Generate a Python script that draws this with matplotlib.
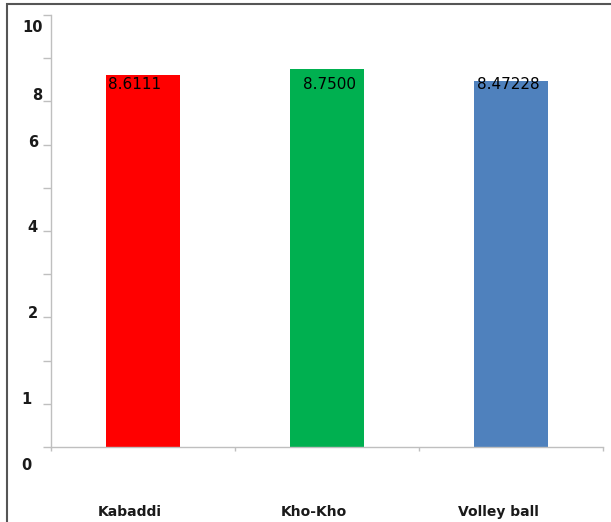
import matplotlib
matplotlib.use("Agg")
import matplotlib.pyplot as plt
from matplotlib.patches import Rectangle
from matplotlib.transforms import ScaledTranslation

categories = ["Kabaddi", "Kho-Kho", "Volley ball"]
values = [8.6111, 8.7500, 8.47228]
value_labels = ["8.6111", "8.7500", "8.47228"]
colors = ["#FF0000", "#00B050", "#4F81BD"]
ytick_texts = ["10", "8", "6", "4", "2", "1", "0"]

fig = plt.figure(figsize=(6.11, 5.22), dpi=100)
W, H = 611, 522
ax = fig.add_axes([51 / W, (H - 447) / H, 552 / W, 432 / H])

x = list(range(len(categories)))
bars = ax.bar(x, values, width=0.40, color=colors, edgecolor="none", zorder=2)

ax.set_xlim(-0.5, 2.5)
ax.set_ylim(0, 10)

for s in ["top", "right"]:
    ax.spines[s].set_visible(False)
for s in ["left", "bottom"]:
    ax.spines[s].set_color("#BFBFBF")
    ax.spines[s].set_linewidth(1.0)

ax.set_yticks(range(0, 11))
ax.set_yticklabels([])
ax.tick_params(axis="y", direction="out", length=6, color="#BFBFBF", width=1)
ax.set_xticks([-0.5, 0.5, 1.5, 2.5])
ax.set_xticklabels([])
ax.tick_params(axis="x", direction="out", length=3, color="#BFBFBF", width=1)

# misplaced y labels as in the reference
ylab_pos = [9.70, 8.13, 7.04, 5.07, 3.10, 1.11, -0.42]
ylab_dx = [-8, -9, -13, -13, -13, -19, -19]
for t, yp, dx in zip(ytick_texts, ylab_pos, ylab_dx):
    ax.text(-0.5, yp, t, transform=ax.transData + ScaledTranslation(dx / 100, 0, fig.dpi_scale_trans),
            ha="right", va="center", fontsize=10.5, fontweight="bold", color="#1a1a1a",
            clip_on=False)

# category labels (offset left as in reference)
for xi, c in zip(x, categories):
    ax.text(xi, 0, c, transform=ax.transData + ScaledTranslation(-13 / 100, -65 / 100, fig.dpi_scale_trans),
            ha="center", va="center", fontsize=10, fontweight="bold", color="#1a1a1a", clip_on=False)

# value labels
label_dx = [2, 13, 3]
for b, lab, dx in zip(bars, value_labels, label_dx):
    ax.text(b.get_x(), 8.40, lab,
            transform=ax.transData + ScaledTranslation(dx / 100, 0, fig.dpi_scale_trans),
            ha="left", va="center", fontsize=11, color="black", zorder=3)

# outer border
fig.patches.append(Rectangle((7 / W, -0.01), (W - 7) / W + 0.01, (H - 4) / H + 0.01,
                             transform=fig.transFigure, fill=False, edgecolor="#555555",
                             linewidth=1.5))

fig.savefig("out.png", dpi=100)
